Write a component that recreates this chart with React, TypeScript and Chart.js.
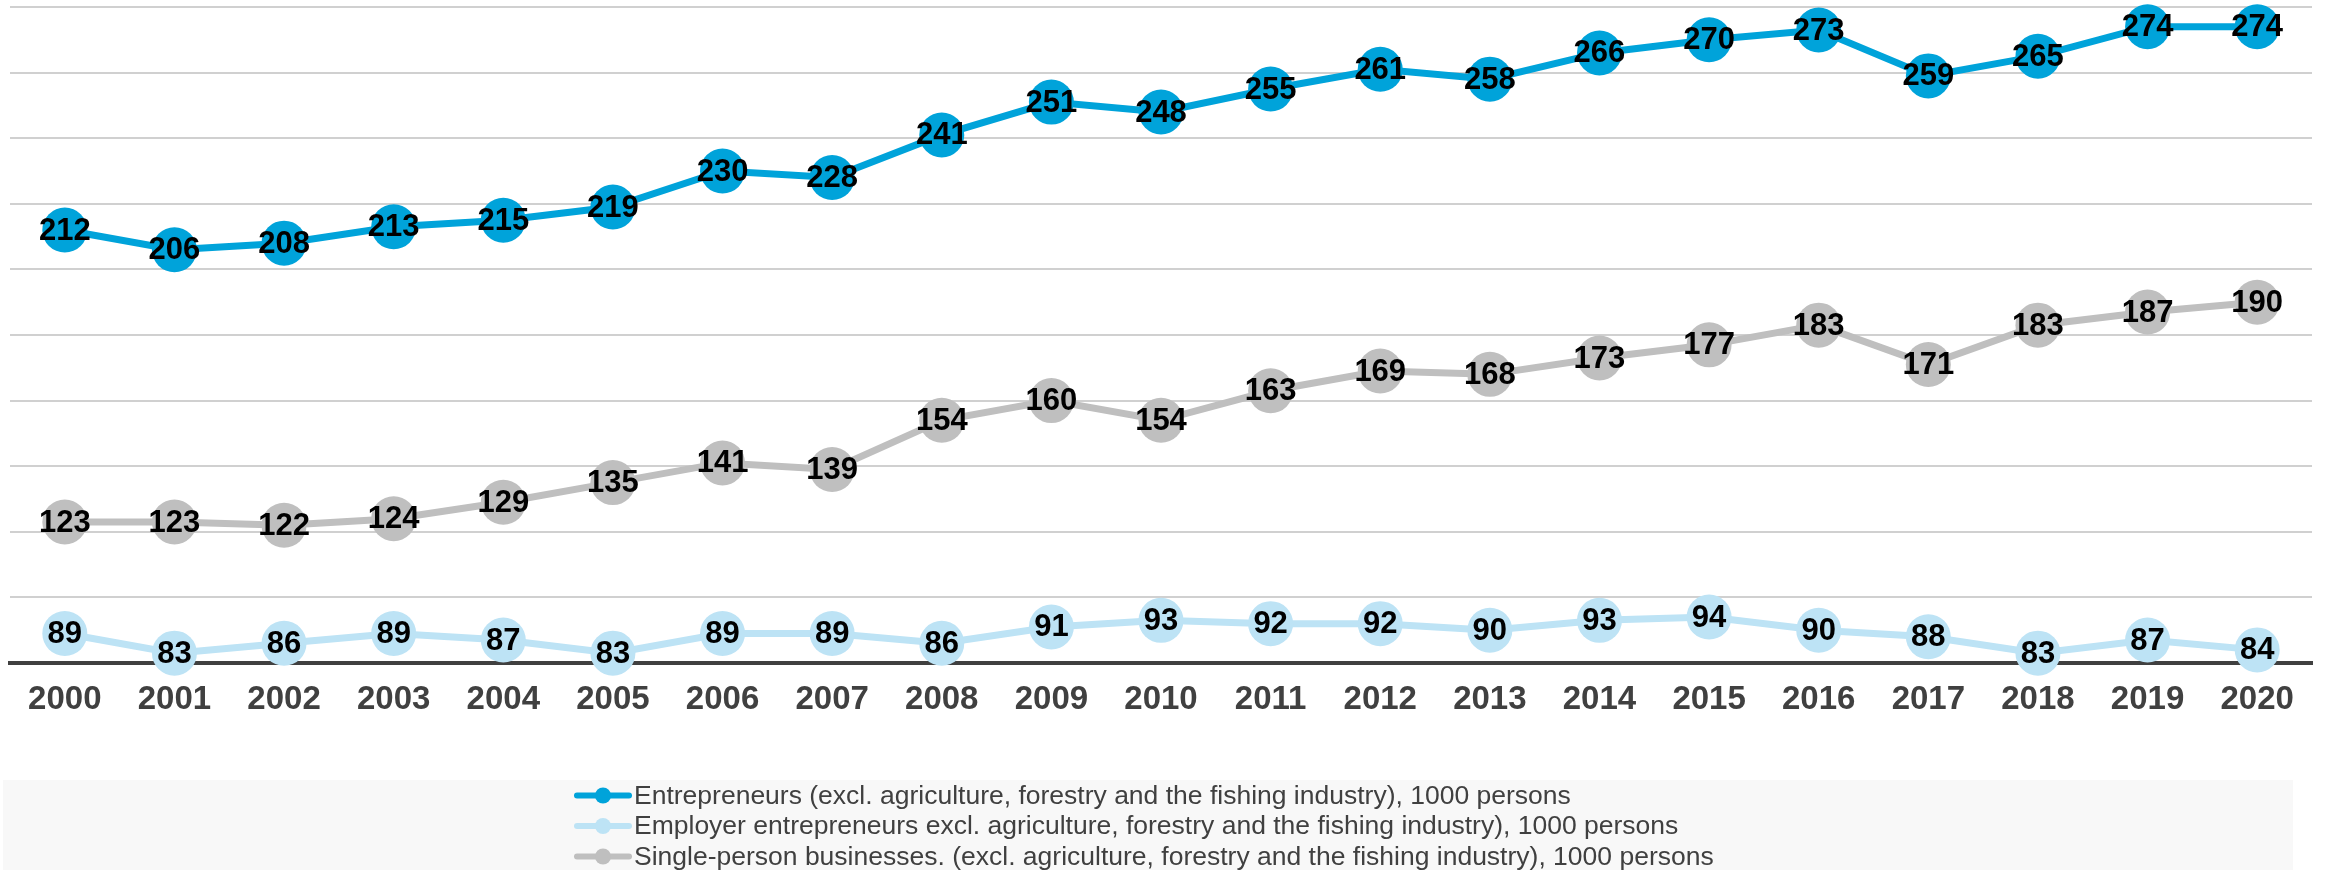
import React, { useEffect, useRef } from "react";
import { Chart, registerables } from "chart.js";

Chart.register(...registerables);

const years = ["2000","2001","2002","2003","2004","2005","2006","2007","2008","2009","2010","2011","2012","2013","2014","2015","2016","2017","2018","2019","2020"];
const entrepreneurs = [212,206,208,213,215,219,230,228,241,251,248,255,261,258,266,270,273,259,265,274,274];
const employers = [89,83,86,89,87,83,89,89,86,91,93,92,92,90,93,94,90,88,83,87,84];
const singlePerson = [123,123,122,124,129,135,141,139,154,160,154,163,169,168,173,177,183,171,183,187,190];
const seriesLabels = [
  "Entrepreneurs (excl. agriculture, forestry and the fishing industry), 1000 persons",
  "Employer entrepreneurs excl. agriculture, forestry and the fishing industry), 1000 persons",
  "Single-person businesses. (excl. agriculture, forestry and the fishing industry), 1000 persons",
];
const seriesColors = ["#00A3DA", "#BDE3F5", "#BFBFBF"];

const FONT = "'Liberation Sans', Arial, sans-serif";

const dataLabelPlugin = {
  id: "dataLabels",
  afterDatasetsDraw(chart: any) {
    const ctx = chart.ctx;
    ctx.save();
    ctx.font = `bold 31px ${FONT}`;
    ctx.fillStyle = "#000000";
    ctx.textAlign = "center";
    ctx.textBaseline = "middle";
    chart.data.datasets.forEach((ds: any, i: number) => {
      const meta = chart.getDatasetMeta(i);
      meta.data.forEach((pt: any, j: number) => {
        ctx.fillText(String(ds.data[j]), pt.x, pt.y + 1);
      });
    });
    ctx.restore();
  },
};

const legendPlugin = {
  id: "customLegend",
  afterDraw(chart: any) {
    const ctx = chart.ctx;
    ctx.save();
    ctx.fillStyle = "#F8F8F8";
    ctx.fillRect(3, 780, 2290, 90);
    chart.data.datasets.forEach((ds: any, row: number) => {
      const y = 795.5 + row * 30.5;
      ctx.strokeStyle = ds.borderColor;
      ctx.lineWidth = 6;
      ctx.lineCap = "round";
      ctx.beginPath();
      ctx.moveTo(577, y);
      ctx.lineTo(629, y);
      ctx.stroke();
      ctx.fillStyle = ds.borderColor;
      ctx.beginPath();
      ctx.arc(603, y, 8, 0, Math.PI * 2);
      ctx.fill();
      ctx.fillStyle = "#404040";
      ctx.font = `26.5px ${FONT}`;
      ctx.textAlign = "left";
      ctx.textBaseline = "middle";
      ctx.fillText(ds.label, 634, y + 1);
    });
    ctx.restore();
  },
};

export default function App() {
  const ref = useRef<HTMLCanvasElement | null>(null);
  useEffect(() => {
    document.body.style.margin = "0";
    const makeDs = (label: string, data: number[], color: string) => ({
      label,
      data,
      borderColor: color,
      backgroundColor: color,
      borderWidth: 7,
      pointRadius: 22.5,
      pointBorderWidth: 0,
      pointBackgroundColor: color,
      tension: 0,
      clip: false,
    });
    const chart = new Chart(ref.current as HTMLCanvasElement, {
      type: "line",
      data: {
        labels: years,
        datasets: [
          makeDs(seriesLabels[0], entrepreneurs, seriesColors[0]),
          makeDs(seriesLabels[1], employers, seriesColors[1]),
          makeDs(seriesLabels[2], singlePerson, seriesColors[2]),
        ],
      },
      options: {
        animation: false,
        responsive: false,
        devicePixelRatio: 1,
        layout: { autoPadding: false, padding: { top: 7, left: 10, right: 13, bottom: 0 } },
        plugins: { legend: { display: false }, tooltip: { enabled: false } },
        scales: {
          x: {
            offset: true,
            grid: { display: false, drawTicks: false },
            border: { display: true, color: "#404040", width: 4 },
            ticks: {
              color: "#404040",
              font: { family: FONT, size: 33, weight: "bold" },
              padding: 17,
              maxRotation: 0,
              autoSkip: false,
            },
            afterFit: (scale: any) => {
              scale.height = 207;
            },
          },
          y: {
            min: 80,
            max: 280,
            ticks: { display: false, stepSize: 20 },
            grid: { color: "#D0D0D0", lineWidth: 2, drawTicks: false },
            border: { display: false },
            afterFit: (scale: any) => {
              scale.width = 0;
            },
          },
        },
      },
      plugins: [dataLabelPlugin, legendPlugin],
    } as any);
    return () => chart.destroy();
  }, []);
  return (
    <div style={{ position: "absolute", left: 0, top: 0, width: 2325, height: 870, background: "#fff" }}>
      <canvas ref={ref} width={2325} height={870} style={{ width: 2325, height: 870 }} />
    </div>
  );
}
